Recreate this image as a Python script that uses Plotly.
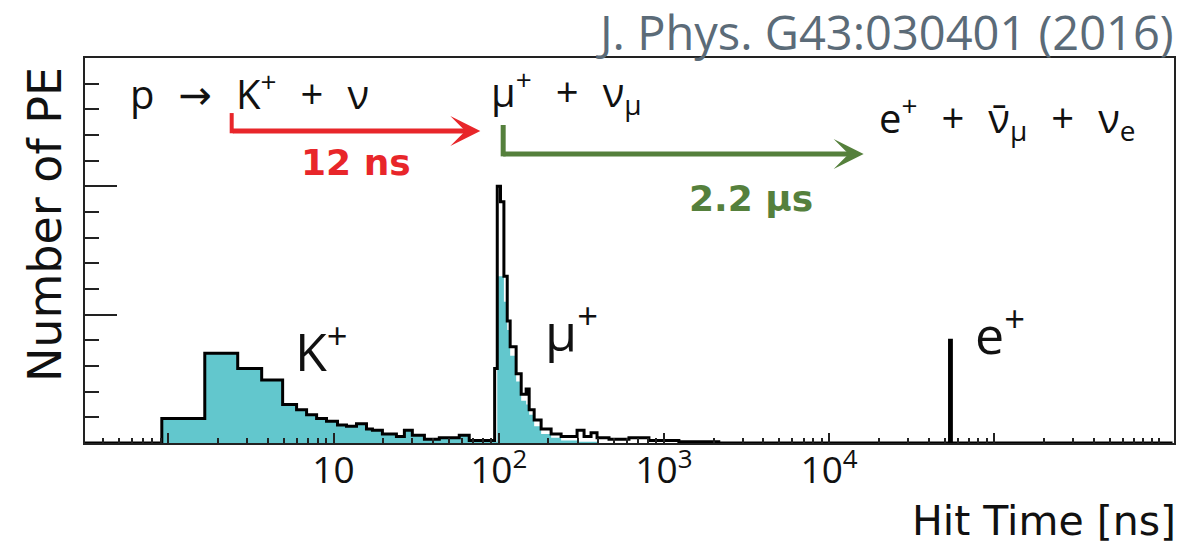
import plotly.graph_objects as go

# ---------------- data ----------------
# bin edges in ns (log-x histogram), total PE (black) and K+/mu+ component (cyan)
bin_edges_ns = [0.30, 0.913, 1.662, 2.63, 3.673, 4.92, 5.975, 6.87, 7.90, 9.07,
                10.57, 11.98, 13.77, 15.83, 17.20, 19.77, 24.03, 26.85, 30.0, 35.5,
                43.7, 57.7, 66.3, 94.5, 98.0, 102.5, 107.5, 112.6, 117.3, 127.5,
                136.8, 146.6, 152.9, 163.9, 180.6, 207.6, 238.6, 298.1, 328.6, 362.2,
                393.8, 465.3, 614.5, 811.6, 1232.0, 2149.0, 53600.0, 55000.0, 1.2e6]
total_pe = [0, 19, 70, 58, 49, 30, 26, 22, 19, 17,
            14, 13, 15, 11, 10, 7, 5, 10, 6, 3,
            4, 6, 2, 58, 200, 188, 130, 95, 75, 54,
            38, 42, 26, 18, 11, 7, 5, 10, 5, 8,
            4, 3, 4, 2, 1, 0, 80, 0]
component_pe = [0, 19, 70, 58, 49, 30, 26, 22, 19, 17,
                14, 13, 15, 11, 10, 7, 5, 10, 6, 3,
                4, 6, 2, 1, 130, 130, 110, 88, 68, 48,
                33, 30, 22, 13, 7, 4, 2, 1, 1, 1,
                0, 0, 0, 0, 0, 0, 0, 0]

x_tick_vals = [1, 10, 100, 1000, 10000, 100000]
x_tick_text = ["", "10", "10<sup>2</sup>", "10<sup>3</sup>", "10<sup>4</sup>", ""]

fill_y = component_pe + [component_pe[-1]]
line_y = total_pe + [total_pe[-1]]

fig = go.Figure()
fig.add_trace(go.Scatter(
    x=bin_edges_ns, y=fill_y, mode="lines", line=dict(shape="hv", width=0, color="#5fc6cc"),
    fill="tozeroy", fillcolor="#62c7cd", hoverinfo="skip", showlegend=False))
fig.add_trace(go.Scatter(
    x=bin_edges_ns, y=line_y, mode="lines", line=dict(shape="hv", width=3, color="#000000"),
    hoverinfo="skip", showlegend=False))

fig.update_layout(
    width=1184, height=548,
    margin=dict(l=85, r=8, t=58, b=105),
    paper_bgcolor="white", plot_bgcolor="white",
    showlegend=False,
    xaxis=dict(
        type="log", range=[-0.5045, 6.088],
        tickmode="array", tickvals=x_tick_vals, ticktext=x_tick_text,
        ticks="inside", ticklen=10, tickwidth=2, tickcolor="#222",
        minor=dict(ticks="inside", ticklen=5, tickwidth=1.5, tickcolor="#222", dtick="D1", showgrid=False),
        showgrid=False, zeroline=False,
        showline=True, linecolor="#222", linewidth=2, mirror=True,
        tickfont=dict(family="Open Sans", size=37, color="#111"),
        ticklabelstandoff=-6,
    ),
    yaxis=dict(
        range=[0, 300], dtick=100, tick0=0,
        ticks="inside", ticklen=32, tickwidth=2, tickcolor="#222",
        minor=dict(ticks="inside", ticklen=14, tickwidth=2, tickcolor="#222", dtick=20, showgrid=False),
        showticklabels=False, showgrid=False, zeroline=False,
        showline=True, linecolor="#222", linewidth=2, mirror=True,
    ),
)

red = "#e8262a"
green = "#55803c"

# arrows and their hooks
fig.add_shape(type="line", xref="paper", yref="paper", x0=0.1347, x1=0.1347, y0=0.857, y1=0.8045,
              line=dict(color=red, width=4))
fig.add_annotation(xref="paper", yref="paper", x=0.363, y=0.8104, ax=-249, ay=0,
                   text="", showarrow=True, standoff=0,
                   arrowhead=3, arrowsize=1.0, arrowwidth=5, arrowcolor=red)
fig.add_shape(type="line", xref="paper", yref="paper", x0=0.384, x1=0.384, y0=0.826, y1=0.7445,
              line=dict(color=green, width=5))
fig.add_annotation(xref="paper", yref="paper", x=0.715, y=0.7506, ax=-362, ay=0,
                   text="", showarrow=True, standoff=0,
                   arrowhead=3, arrowsize=1.0, arrowwidth=5, arrowcolor=green)

def label(text, x, y, size, color="#111", family="Open Sans", xanchor="center", yanchor="middle", angle=0):
    fig.add_annotation(xref="paper", yref="paper", x=x, y=y, text=text, showarrow=False,
                       xanchor=xanchor, yanchor=yanchor, textangle=angle,
                       font=dict(family=family, size=size, color=color))

sp = "\u2002\u200a"
arrow = "<span style='font-family:DejaVu Sans'>→</span>"
label("<b>12 ns</b>", 0.2493, 0.7273, 36, color=red, family="DejaVu Sans")
label("<b>2.2 μs</b>", 0.6114, 0.636, 36, color=green, family="DejaVu Sans")

label(f"p{sp}{arrow}{sp}K<sup>+</sup>{sp}+{sp}ν", 0.0394, 0.912, 40, xanchor="left")
label(f"μ<sup>+</sup>{sp}+{sp}ν<sub>μ</sub>", 0.3712, 0.912, 40, xanchor="left")
label(f"e<sup>+</sup>{sp}+{sp}ν\u0304<sub>μ</sub>{sp}+{sp}ν<sub>e</sub>", 0.7269, 0.846, 40, xanchor="left")

label("K<sup>+</sup>", 0.2172, 0.2468, 52)
label("μ<sup>+</sup>", 0.4464, 0.298, 52)
label("e<sup>+</sup>", 0.8405, 0.29, 52)

label("Number of PE", -0.0367, 0.566, 46, family="DejaVu Sans", angle=-90)
label("Hit Time [ns]", 1.0037, -0.270, 41, family="DejaVu Sans", xanchor="right", yanchor="bottom")
label("J. Phys. G43:030401 (2016)", 1.0018, 1.0675, 47, color="#5b6b78", xanchor="right")

fig.write_html("out.html", config={"displayModeBar": False},
               post_script="document.body.style.margin='0px';")
